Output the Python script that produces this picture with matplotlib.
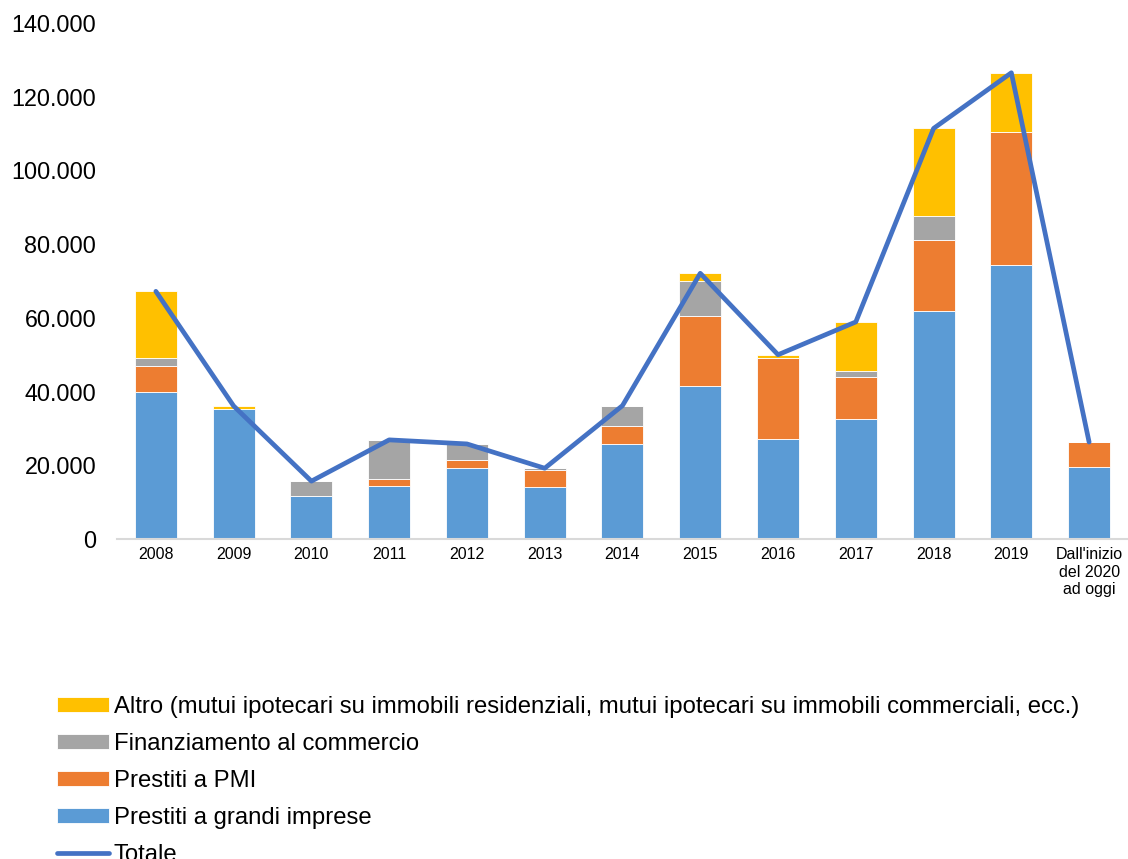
import numpy as np
import matplotlib
matplotlib.use("Agg")
import matplotlib.pyplot as plt
from matplotlib.ticker import FuncFormatter

plt.rcParams['font.family'] = ['Liberation Sans', 'DejaVu Sans']

# Categories and stacked series (values in the chart's units)
categories = ['2008', '2009', '2010', '2011', '2012', '2013', '2014', '2015',
              '2016', '2017', '2018', '2019', "Dall'inizio\ndel 2020\nad oggi"]
grandi_imprese = [40000, 35400, 11800, 14500, 19200, 14000, 25700, 41400,
                  27200, 32600, 61800, 74300, 19500]
pmi = [7000, 0, 0, 1900, 2200, 4700, 5100, 19200, 21900, 11400, 19200, 36200, 6800]
commercio = [2200, 0, 3900, 10500, 4400, 500, 5400, 9400, 0, 1700, 6600, 0, 0]
altro = [18000, 700, 0, 0, 0, 0, 0, 2100, 900, 13200, 23800, 16000, 0]

labels = ['Altro (mutui ipotecari su immobili residenziali, mutui ipotecari su immobili commerciali, ecc.)',
          'Finanziamento al commercio',
          'Prestiti a PMI',
          'Prestiti a grandi imprese',
          'Totale']
colors = ['#FFC000', '#A5A5A5', '#ED7D31', '#5B9BD5']

x = np.arange(len(categories))
series = [grandi_imprese, pmi, commercio, altro]
totale = np.sum(series, axis=0)

fig = plt.figure(figsize=(11.28, 8.59), dpi=100)
ax = fig.add_axes([0.1037, 0.3725, 0.8963, 0.6007])

bottom = np.zeros(len(x))
bars = []
for vals, col in zip(series, colors[::-1]):
    b = ax.bar(x, vals, 0.54, bottom=bottom, color=col, edgecolor='white', linewidth=0.6)
    bars.append(b)
    bottom += np.array(vals)

line, = ax.plot(x, totale, color='#4472C4', linewidth=3.4,
                solid_capstyle='round', solid_joinstyle='round')

ax.set_xlim(-0.5, len(x) - 0.5)
ax.set_ylim(0, 140000)
ax.set_yticks(np.arange(0, 140001, 20000))
ax.yaxis.set_major_formatter(FuncFormatter(lambda v, p: f'{int(v):,}'.replace(',', '.')))
ax.set_xticks(x)
ax.set_xticklabels(categories, fontsize=11.5, linespacing=1.2)
ax.tick_params(axis='y', length=0, pad=15, labelsize=16.8)
ax.tick_params(axis='x', length=0, pad=6)

for s in ['top', 'right', 'left']:
    ax.spines[s].set_visible(False)
ax.spines['bottom'].set_color('#D9D9D9')
ax.spines['bottom'].set_linewidth(1.5)

handles = [bars[3], bars[2], bars[1], bars[0], line]
fig.legend(handles, labels, loc='upper left', bbox_to_anchor=(57 / 1128, 0.190),
           frameon=False, fontsize=17.2, handlelength=2.18, handleheight=0.6,
           handletextpad=0.2, labelspacing=0.63, borderpad=0, borderaxespad=0)

fig.savefig('out.png', dpi=100)
